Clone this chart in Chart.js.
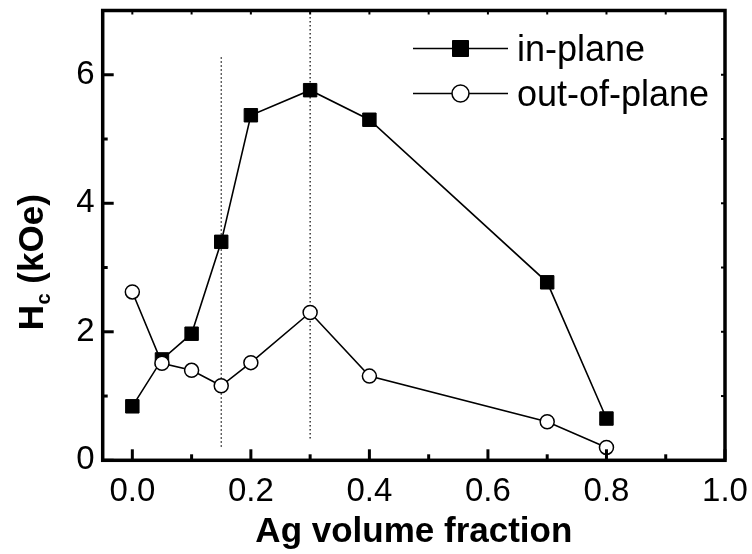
<!DOCTYPE html>
<html>
<head>
<meta charset="utf-8">
<title>Hc x Ag volume fraction</title>
<script src="https://cdn.jsdelivr.net/npm/chart.js"></script>
<style>
  body { margin: 0; background: #fff; }
  canvas { display: block; }
</style>
</head>
<body>
<canvas id="hc_ag" width="752" height="554"></canvas>
<script>
// fração de Ag e campo coercivo (kOe)
const fracoes = [0, 0.05, 0.1, 0.15, 0.2, 0.3, 0.4, 0.7, 0.8];
const inPlane = [0.84, 1.57, 1.97, 3.40, 5.37, 5.76, 5.30, 2.77, 0.65];
const outOfPlane = [2.62, 1.51, 1.40, 1.16, 1.52, 2.30, 1.31, 0.60, 0.20];

// marcas dos eixos
const xTicks = [0, 0.2, 0.4, 0.6, 0.8, 1.0];
const yTicks = [0, 2, 4, 6];

// linhas pontilhadas verticais (x, y inicial, y final)
const guiaX = [0.15, 0.3];
const guiaBaixo = [0.21, 0.34];
const guiaTopo = [6.31, 6.9];

Chart.defaults.font.family = "'Liberation Sans', Arial, sans-serif";
Chart.defaults.color = '#000';

function pontos(ys) {
  return fracoes.map((x, i) => ({ x: x, y: ys[i] }));
}

function meios(v) {
  return v.slice(1).map((t, i) => (t + v[i]) / 2);
}

const guias = guiaX.map((x, i) => ({
  label: '',
  data: [{ x: x, y: guiaBaixo[i] }, { x: x, y: guiaTopo[i] }],
  borderColor: '#000',
  borderWidth: 1.2,
  borderDash: [1.5, 2.5],
  pointRadius: 0,
  order: 2
}));

// moldura fechada com marcas para dentro
const moldura = {
  id: 'moldura',
  afterDatasetsDraw(chart) {
    const { ctx, chartArea: a, scales } = chart;
    const sx = scales.x, sy = scales.y;
    ctx.save();
    ctx.strokeStyle = '#000';
    ctx.lineCap = 'butt';
    function traco(x0, y0, x1, y1, w) {
      ctx.lineWidth = w;
      ctx.beginPath();
      ctx.moveTo(x0, y0);
      ctx.lineTo(x1, y1);
      ctx.stroke();
    }
    xTicks.forEach(v => {
      const px = sx.getPixelForValue(v);
      traco(px, a.bottom, px, a.bottom - 11, 3);
      traco(px, a.top, px, a.top + 4, 2);
    });
    meios(xTicks).forEach(v => {
      const px = sx.getPixelForValue(v);
      traco(px, a.bottom, px, a.bottom - 6, 3);
      traco(px, a.top, px, a.top + 4, 2);
    });
    yTicks.forEach(v => {
      const py = sy.getPixelForValue(v);
      traco(a.left, py, a.left + 11, py, 3);
      traco(a.right, py, a.right - 4, py, 2);
    });
    meios(yTicks).forEach(v => {
      const py = sy.getPixelForValue(v);
      traco(a.left, py, a.left + 5, py, 3);
      traco(a.right, py, a.right - 4, py, 2);
    });
    ctx.lineWidth = 3.5;
    ctx.lineJoin = 'miter';
    ctx.strokeRect(a.left, a.top, a.right - a.left, a.bottom - a.top);
    ctx.restore();
  }
};

// legenda com linha + símbolo, dentro da área do gráfico
const legenda = {
  id: 'legenda',
  afterDraw(chart) {
    const { ctx, chartArea: a } = chart;
    const series = chart.data.datasets.filter(d => d.label);
    ctx.save();
    series.forEach((d, i) => {
      const cy = a.top + 38 + i * 45;
      const x0 = a.right - 312, x1 = a.right - 217, cx = (x0 + x1) / 2;
      ctx.strokeStyle = '#000';
      ctx.lineWidth = 1.6;
      ctx.beginPath();
      ctx.moveTo(x0, cy);
      ctx.lineTo(x1, cy);
      ctx.stroke();
      ctx.fillStyle = d.pointBackgroundColor;
      ctx.lineWidth = d.pointBorderWidth;
      ctx.beginPath();
      if (d.pointStyle === 'rect') {
        ctx.rect(cx - 8, cy - 8, 16, 16);
      } else {
        ctx.arc(cx, cy, 8.5, 0, Math.PI * 2);
      }
      ctx.fill();
      ctx.stroke();
      ctx.fillStyle = '#000';
      ctx.font = "36px 'Liberation Sans', Arial, sans-serif";
      ctx.textAlign = 'left';
      ctx.textBaseline = 'alphabetic';
      ctx.fillText(d.label, a.right - 208, cy + 12.5);
    });
    ctx.restore();
  }
};

// título do eixo y com subscrito: H_c (kOe)
const tituloY = {
  id: 'tituloY',
  afterDraw(chart) {
    const { ctx, chartArea: a } = chart;
    const grande = "bold 35px 'Liberation Sans', Arial, sans-serif";
    const pequeno = "bold 20px 'Liberation Sans', Arial, sans-serif";
    ctx.save();
    ctx.translate(a.left - 60, a.bottom - 130);
    ctx.rotate(-Math.PI / 2);
    ctx.fillStyle = '#000';
    ctx.textAlign = 'left';
    ctx.textBaseline = 'alphabetic';
    ctx.font = grande;
    ctx.fillText('H', 0, 0);
    const w1 = ctx.measureText('H').width;
    ctx.font = pequeno;
    ctx.fillText('c', w1 + 0.5, 7);
    const w2 = ctx.measureText('c').width;
    ctx.font = grande;
    ctx.fillText(' (kOe)', w1 + w2 + 0.5, 0);
    ctx.restore();
  }
};

const config = {
  type: 'line',
  data: {
    datasets: [
      {
        label: 'in-plane',
        data: pontos(inPlane),
        borderColor: '#000',
        borderWidth: 1.6,
        pointStyle: 'rect',
        pointRadius: 9.5,
        pointBackgroundColor: '#000',
        pointBorderColor: '#000',
        pointBorderWidth: 1,
        order: 1
      },
      {
        label: 'out-of-plane',
        data: pontos(outOfPlane),
        borderColor: '#000',
        borderWidth: 1.6,
        pointStyle: 'circle',
        pointRadius: 7,
        pointBackgroundColor: '#fff',
        pointBorderColor: '#000',
        pointBorderWidth: 1.5,
        order: 0
      }
    ].concat(guias)
  },
  options: {
    responsive: false,
    animation: false,
    layout: { padding: { top: 5.3, right: 27, left: 0, bottom: 0 } },
    plugins: { legend: { display: false }, tooltip: { enabled: false } },
    scales: {
      x: {
        type: 'linear',
        min: -0.05,
        max: 1.0,
        grid: { display: false, drawTicks: false },
        border: { display: false },
        afterBuildTicks: s => { s.ticks = xTicks.map(v => ({ value: v })); },
        afterFit: s => { s.height = 93.7; s.paddingLeft = 0; s.paddingRight = 0; },
        ticks: {
          font: { size: 33 },
          padding: 12,
          maxRotation: 0,
          callback: v => v.toFixed(1)
        },
        title: {
          display: true,
          text: 'Ag volume fraction',
          font: { size: 35, weight: 'bold' },
          padding: { top: 0, bottom: 1 }
        }
      },
      y: {
        min: 0,
        max: 7,
        grid: { display: false, drawTicks: false },
        border: { display: false },
        afterBuildTicks: s => { s.ticks = yTicks.map(v => ({ value: v })); },
        afterFit: s => { s.width = 102.7; s.paddingTop = 0; s.paddingBottom = 0; },
        ticks: {
          font: { size: 33 },
          padding: 8,
          callback: v => String(v)
        }
      }
    }
  },
  plugins: [moldura, legenda, tituloY]
};

const graficoHc = new Chart(document.getElementById('hc_ag'), config);
</script>
</body>
</html>
